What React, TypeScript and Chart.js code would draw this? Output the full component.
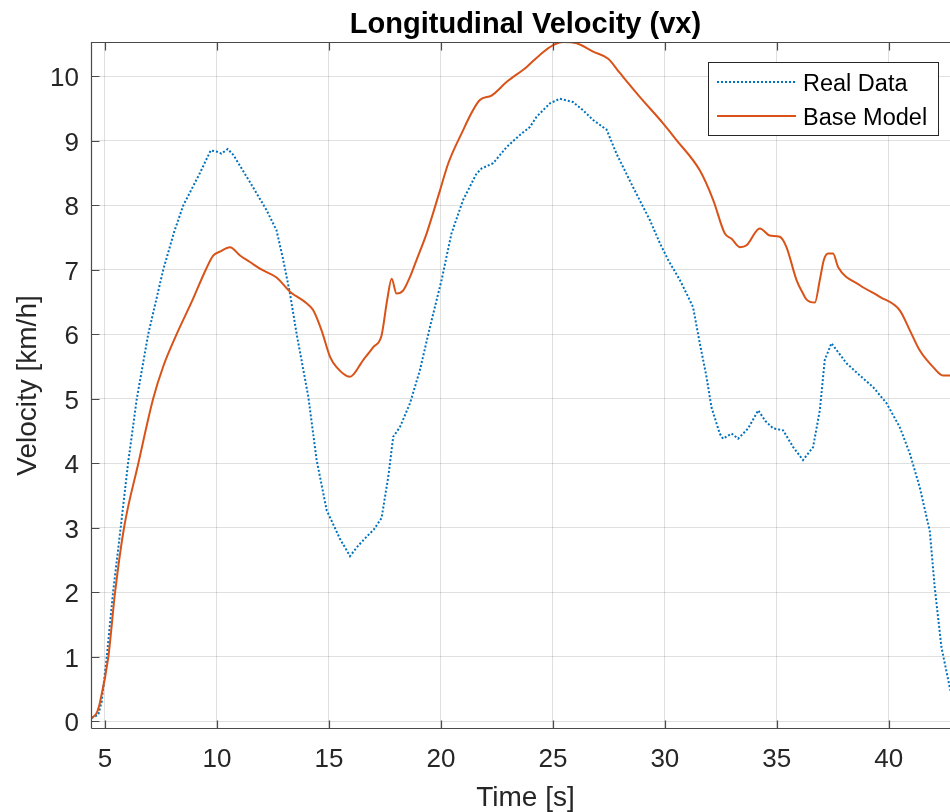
import React, { useEffect, useRef } from "react";
import { Chart, registerables } from "chart.js";

Chart.register(...registerables);

const titleText = "Longitudinal Velocity (vx)";
const xLabel = "Time [s]";
const yLabel = "Velocity [km/h]";
const seriesNames = ["Real Data", "Base Model"];

const xTicks = [5, 10, 15, 20, 25, 30, 35, 40];
const yTicks = [0, 1, 2, 3, 4, 5, 6, 7, 8, 9, 10];

const realTime = [
  4.4, 4.7, 4.85, 5.08, 5.36, 5.7, 6.03, 6.42, 6.93, 7.6, 8.1, 8.5, 9.24, 9.72, 10.0, 10.2,
  10.48, 10.73, 11.47, 12.22, 12.66, 12.96, 13.26, 13.56, 14.08, 14.45, 14.9, 15.49, 15.94,
  16.3, 16.68, 17.0, 17.35, 17.65, 17.87, 18.17, 18.62, 19.06, 19.51, 20.03, 20.47, 20.99,
  21.59, 21.82, 22.33, 22.93, 23.53, 23.97, 24.27, 24.87, 25.31, 25.9, 26.35, 26.8, 27.4,
  27.84, 28.58, 29.33, 29.78, 30.15, 30.67, 30.97, 31.26, 31.56, 31.86, 32.08, 32.45, 32.6,
  32.98, 33.27, 33.72, 34.17, 34.5, 34.84, 35.28, 35.73, 36.17, 36.62, 36.92, 37.14, 37.44,
  38.11, 38.71, 39.3, 39.9, 40.49, 40.94, 41.38, 41.83, 42.05, 42.35, 42.72, 42.95,
];
const realVel = [
  0.05, 0.1, 0.3, 1.0, 2.0, 3.0, 4.0, 5.0, 6.0, 7.0, 7.6, 8.0, 8.5, 8.85, 8.83, 8.8,
  8.87, 8.78, 8.36, 7.92, 7.61, 7.15, 6.63, 6.0, 5.03, 4.05, 3.27, 2.83, 2.56,
  2.72, 2.86, 2.97, 3.15, 3.79, 4.41, 4.56, 4.93, 5.44, 6.11, 6.84, 7.56, 8.08,
  8.49, 8.57, 8.65, 8.9, 9.09, 9.21, 9.37, 9.58, 9.65, 9.6, 9.47, 9.32, 9.17,
  8.8, 8.28, 7.77, 7.41, 7.15, 6.84, 6.63, 6.42, 5.86, 5.34, 4.87, 4.46, 4.38,
  4.46, 4.38, 4.54, 4.82, 4.65, 4.54, 4.51, 4.25, 4.05, 4.25, 4.82, 5.6, 5.86,
  5.55, 5.36, 5.18, 4.93, 4.56, 4.15, 3.63, 2.95, 2.08, 1.15, 0.53, 0.2,
];

const modelTime = [
  4.4, 4.63, 4.78, 5.15, 5.45, 5.85, 6.49, 7.15, 7.6, 8.2, 8.87, 9.5, 9.83, 10.13, 10.58,
  11.03, 11.47, 12.0, 12.66, 13.26, 14.0, 14.3, 14.67, 15.05, 15.34, 15.94, 16.53, 16.98,
  17.35, 17.6, 17.8, 18.02, 18.32, 18.62, 18.91, 19.36, 19.96, 20.33, 20.85, 21.74, 22.26,
  22.93, 23.82, 24.42, 25.01, 25.46, 26.06, 26.8, 27.47, 27.99, 28.88, 29.92, 30.52, 31.56,
  32.16, 32.68, 32.98, 33.35, 33.65, 34.24, 34.69, 35.13, 35.43, 35.88, 36.17, 36.32, 36.7,
  36.92, 37.1, 37.29, 37.51, 37.74, 38.71, 39.6, 40.49, 40.94, 41.38, 41.98, 42.42, 42.72,
  43.2,
];
const modelVel = [
  0.05, 0.13, 0.3, 1.0, 2.0, 3.0, 4.0, 5.0, 5.5, 6.0, 6.5, 7.0, 7.22, 7.28, 7.35,
  7.22, 7.12, 7.0, 6.88, 6.66, 6.48, 6.37, 6.06, 5.65, 5.49, 5.34, 5.6, 5.8,
  5.98, 6.53, 6.86, 6.63, 6.68, 6.89, 7.15, 7.56, 8.23, 8.65, 9.06, 9.63, 9.7,
  9.91, 10.14, 10.33, 10.48, 10.53, 10.51, 10.38, 10.27, 10.05, 9.68, 9.27, 9.01, 8.54,
  8.08, 7.56, 7.48, 7.35, 7.38, 7.64, 7.53, 7.51, 7.35, 6.84, 6.63, 6.54, 6.49,
  6.84, 7.15, 7.25, 7.25, 7.04, 6.76, 6.58, 6.37, 6.06, 5.75, 5.49, 5.36, 5.36,
  5.35,
];

const FONT = '"Liberation Sans", Arial, Helvetica, sans-serif';
const BLUE = "#0072BD";
const ORANGE = "#D95319";
const DOT = [2, 2];

const matlabPlugin = {
  id: "matlabFrame",
  afterDraw(chart: any) {
    const { ctx, chartArea: a, scales } = chart;
    const xs = scales.x;
    const ys = scales.y;
    ctx.save();
    const L = Math.round(a.left) + 0.5;
    const T = Math.round(a.top) + 0.5;
    const B = Math.round(a.bottom) - 0.5;
    const R = Math.round(a.right) - 0.5;
    ctx.strokeStyle = "#4a4a4a";
    ctx.lineWidth = 1.2;
    ctx.beginPath();
    ctx.moveTo(L, B);
    ctx.lineTo(L, T);
    ctx.lineTo(R, T);
    ctx.lineTo(R, B);
    ctx.lineTo(L, B);
    ctx.stroke();
    const tl = 8;
    ctx.beginPath();
    for (const v of xTicks) {
      const px = Math.round(xs.getPixelForValue(v)) + 0.5;
      ctx.moveTo(px, B);
      ctx.lineTo(px, B - tl);
      ctx.moveTo(px, T);
      ctx.lineTo(px, T + tl);
    }
    for (const v of yTicks) {
      const py = Math.round(ys.getPixelForValue(v)) + 0.5;
      ctx.moveTo(L, py);
      ctx.lineTo(L + tl, py);
      ctx.moveTo(R, py);
      ctx.lineTo(R - tl, py);
    }
    ctx.stroke();

    const cx = (a.left + a.right) / 2;
    ctx.fillStyle = "#000000";
    ctx.font = `bold 29px ${FONT}`;
    ctx.textAlign = "center";
    ctx.textBaseline = "alphabetic";
    ctx.fillText(titleText, cx, 33);

    ctx.fillStyle = "#262626";
    ctx.font = `28px ${FONT}`;
    ctx.fillText(xLabel, cx, 806);

    ctx.save();
    ctx.translate(36, (a.top + a.bottom) / 2);
    ctx.rotate(-Math.PI / 2);
    ctx.fillText(yLabel, 0, 0);
    ctx.restore();

    // legend
    ctx.fillStyle = "#ffffff";
    ctx.fillRect(708, 62, 230, 73);
    ctx.strokeStyle = "#262626";
    ctx.lineWidth = 1;
    ctx.strokeRect(708.5, 62.5, 230, 73);
    ctx.lineWidth = 2;
    ctx.strokeStyle = BLUE;
    ctx.setLineDash(DOT);
    ctx.beginPath();
    ctx.moveTo(717, 82);
    ctx.lineTo(796, 82);
    ctx.stroke();
    ctx.setLineDash([]);
    ctx.strokeStyle = ORANGE;
    ctx.beginPath();
    ctx.moveTo(717, 116);
    ctx.lineTo(796, 116);
    ctx.stroke();
    ctx.fillStyle = "#000000";
    ctx.font = `23.5px ${FONT}`;
    ctx.textAlign = "left";
    ctx.fillText(seriesNames[0], 803, 91);
    ctx.fillText(seriesNames[1], 803, 124.5);
    ctx.restore();
  },
};

export default function App() {
  const ref = useRef<HTMLCanvasElement | null>(null);
  useEffect(() => {
    if (!ref.current) return;
    const tickFont = { family: FONT, size: 26 };
    const gridCfg = { color: "rgba(38,38,38,0.15)", lineWidth: 1, drawTicks: false };
    const chart = new Chart(ref.current, {
      type: "line",
      data: {
        datasets: [
          {
            label: seriesNames[0],
            data: realTime.map((t, i) => ({ x: t, y: realVel[i] })),
            borderColor: BLUE,
            borderWidth: 2,
            borderDash: DOT,
            pointRadius: 0,
            fill: false,
            tension: 0,
            order: 1,
          },
          {
            label: seriesNames[1],
            data: modelTime.map((t, i) => ({ x: t, y: modelVel[i] })),
            borderColor: ORANGE,
            borderWidth: 2,
            pointRadius: 0,
            fill: false,
            cubicInterpolationMode: "monotone",
            order: 0,
          },
        ],
      },
      options: {
        animation: false,
        responsive: false,
        devicePixelRatio: 1,
        layout: { padding: { top: 42, left: 0, right: 0, bottom: 0 } },
        plugins: {
          legend: { display: false },
          title: { display: false },
          tooltip: { enabled: false },
        },
        scales: {
          x: {
            type: "linear",
            min: 4.375,
            max: 43.18,
            afterBuildTicks: (s: any) => {
              s.ticks = xTicks.map((v) => ({ value: v }));
            },
            afterFit: (s: any) => {
              s.height = 83;
            },
            grid: gridCfg,
            border: { display: false },
            ticks: { padding: 15, font: tickFont, color: "#262626", maxRotation: 0, autoSkip: false },
          },
          y: {
            type: "linear",
            min: -0.12,
            max: 10.53,
            afterBuildTicks: (s: any) => {
              s.ticks = yTicks.map((v) => ({ value: v }));
            },
            afterFit: (s: any) => {
              s.width = 91;
            },
            grid: gridCfg,
            border: { display: false },
            ticks: { padding: 12, labelOffset: 3, font: tickFont, color: "#262626", autoSkip: false },
          },
        },
      },
      plugins: [matlabPlugin],
    } as any);
    return () => chart.destroy();
  }, []);

  return (
    <div
      style={{
        position: "absolute",
        left: 0,
        top: 0,
        width: 950,
        height: 812,
        overflow: "hidden",
        background: "#ffffff",
      }}
    >
      <canvas ref={ref} width={960} height={812} style={{ width: 960, height: 812, display: "block" }} />
    </div>
  );
}
